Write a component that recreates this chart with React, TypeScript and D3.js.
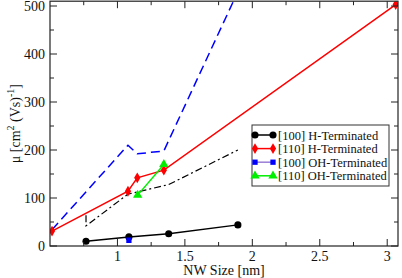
import React from 'react';
import * as d3 from 'd3';

// series
const h100X = [0.767, 1.085, 1.38, 1.893];
const h100Y = [10, 19, 25.6, 44];
const h110X = [0.515, 1.078, 1.147, 1.344, 3.063];
const h110Y = [31, 114, 142, 158, 503];
const oh100X = [1.085];
const oh100Y = [12];
const oh110X = [1.15, 1.344];
const oh110Y = [106, 170];
// unlabelled guide lines
const blueDashX = [0.515, 1.078, 1.147, 1.344, 1.893];
const blueDashY = [34, 210, 192, 198, 530];
const dashDotX = [0.767, 0.767, 1.078, 1.38, 1.893];
const dashDotY = [64, 42, 108, 128, 200];

const xTicks = [1, 1.5, 2, 2.5, 3];
const xMinor = [0.75, 1.25, 1.75, 2.25, 2.75];
const yTicks = [0, 100, 200, 300, 400, 500];
const yMinor = [50, 150, 250, 350, 450];
const legendLabels = ['[100] H-Terminated', '[110] H-Terminated', '[100] OH-Terminated', '[110] OH-Terminated'];

const W = 402;
const H = 278;
const left = 50;
const right = 398;
const top = 1.2;
const bottom = 246;
const font = "'Liberation Serif', 'DejaVu Serif', serif";
const axisColor = '#222';

const x = d3.scaleLinear().domain([0.5, 3.08]).range([left, right]);
const y = d3.scaleLinear().domain([0, 510]).range([bottom, top]);

const zip = (xs: number[], ys: number[]) => xs.map((v, i) => [v, ys[i]] as [number, number]);
const line = d3.line<[number, number]>().x((d) => x(d[0])).y((d) => y(d[1]));

type Marker = 'circle' | 'diamond' | 'square' | 'triangle';

const markerPath = (kind: Marker) => {
  const sym =
    kind === 'circle' ? d3.symbolCircle :
    kind === 'diamond' ? d3.symbolDiamond :
    kind === 'square' ? d3.symbolSquare : d3.symbolTriangle;
  const size = kind === 'circle' ? 40 : kind === 'diamond' ? 34 : kind === 'square' ? 28 : 38;
  return d3.symbol(sym, size)() as string;
};

const series = [
  { xs: h100X, ys: h100Y, color: '#000000', line: '#000000', marker: 'circle' as Marker },
  { xs: h110X, ys: h110Y, color: '#ff0000', line: '#ff0000', marker: 'diamond' as Marker },
  { xs: oh100X, ys: oh100Y, color: '#0000ff', line: '#9a7fd6', marker: 'square' as Marker },
  { xs: oh110X, ys: oh110Y, color: '#00ee00', line: '#00ee00', marker: 'triangle' as Marker },
];

export default function App() {
  const legendX = 252;
  const legendY = 125;
  const rowH = 13.6;

  return (
    <svg width={W} height={H} style={{ position: 'absolute', left: 0, top: 0, fontFamily: font }}>
      <defs>
        <clipPath id="plot">
          <rect x={left} y={top} width={right - left} height={bottom - top} />
        </clipPath>
      </defs>
      <rect width={W} height={H} fill="#fff" />

      <g clipPath="url(#plot)" fill="none">
        <path d={line(zip(blueDashX, blueDashY)) as string} stroke="#0000ff" strokeWidth={1.5} strokeDasharray="9,5" />
        <path d={line(zip(dashDotX, dashDotY)) as string} stroke="#000" strokeWidth={1.2} strokeDasharray="7,3,2,3" />
        {series.map((s, i) => (
          <path key={i} d={line(zip(s.xs, s.ys)) as string} stroke={s.line} strokeWidth={1.5} />
        ))}
        {series.map((s, i) =>
          zip(s.xs, s.ys).map((p, j) => (
            <path key={`${i}-${j}`} d={markerPath(s.marker)} transform={`translate(${x(p[0])},${y(p[1])})`} fill={s.color} />
          ))
        )}
      </g>

      {/* frame + ticks */}
      <rect x={left} y={top} width={right - left} height={bottom - top} fill="none" stroke={axisColor} strokeWidth={1.2} />
      {xTicks.map((t) => (
        <g key={`xt${t}`} stroke={axisColor} strokeWidth={1}>
          <line x1={x(t)} x2={x(t)} y1={bottom} y2={bottom - 7} />
          <line x1={x(t)} x2={x(t)} y1={top} y2={top + 7} />
        </g>
      ))}
      {xMinor.map((t) => (
        <g key={`xm${t}`} stroke={axisColor} strokeWidth={1}>
          <line x1={x(t)} x2={x(t)} y1={bottom} y2={bottom - 4} />
          <line x1={x(t)} x2={x(t)} y1={top} y2={top + 4} />
        </g>
      ))}
      {yTicks.map((t) => (
        <g key={`yt${t}`} stroke={axisColor} strokeWidth={1}>
          <line x1={left} x2={left + 7} y1={y(t)} y2={y(t)} />
          <line x1={right} x2={right - 7} y1={y(t)} y2={y(t)} />
        </g>
      ))}
      {yMinor.map((t) => (
        <g key={`ym${t}`} stroke={axisColor} strokeWidth={1}>
          <line x1={left} x2={left + 4} y1={y(t)} y2={y(t)} />
          <line x1={right} x2={right - 4} y1={y(t)} y2={y(t)} />
        </g>
      ))}

      {xTicks.map((t) => (
        <text key={`xl${t}`} x={x(t)} y={261} textAnchor="middle" fontSize={14} fill="#111">{t}</text>
      ))}
      {yTicks.map((t) => (
        <text key={`yl${t}`} x={45} y={y(t) + 5} textAnchor="end" fontSize={14} fill="#111">{t}</text>
      ))}

      <text x={(left + right) / 2} y={275} textAnchor="middle" fontSize={14} fill="#111">NW Size [nm]</text>
      <text transform={`translate(20,${(top + bottom) / 2}) rotate(-90)`} textAnchor="middle" fontSize={14} fill="#111">
        μ [cm<tspan dy={-6} fontSize={10}>2</tspan>
        <tspan dy={6}> (Vs)</tspan>
        <tspan dy={-6} fontSize={10}>-1</tspan>
        <tspan dy={6}>]</tspan>
      </text>

      {/* legend */}
      <rect x={legendX} y={legendY} width={137} height={61} fill="#fff" stroke="#333" strokeWidth={1} />
      {series.map((s, i) => {
        const cy = legendY + 10 + i * rowH;
        return (
          <g key={`lg${i}`}>
            <line x1={legendX + 3} x2={legendX + 21} y1={cy} y2={cy} stroke={s.line} strokeWidth={1.5} />
            <path d={markerPath(s.marker)} transform={`translate(${legendX + 3},${cy})`} fill={s.color} />
            <path d={markerPath(s.marker)} transform={`translate(${legendX + 21},${cy})`} fill={s.color} />
            <text x={legendX + 26} y={cy + 4.5} fontSize={12.5} fill="#111">{legendLabels[i]}</text>
          </g>
        );
      })}
    </svg>
  );
}
